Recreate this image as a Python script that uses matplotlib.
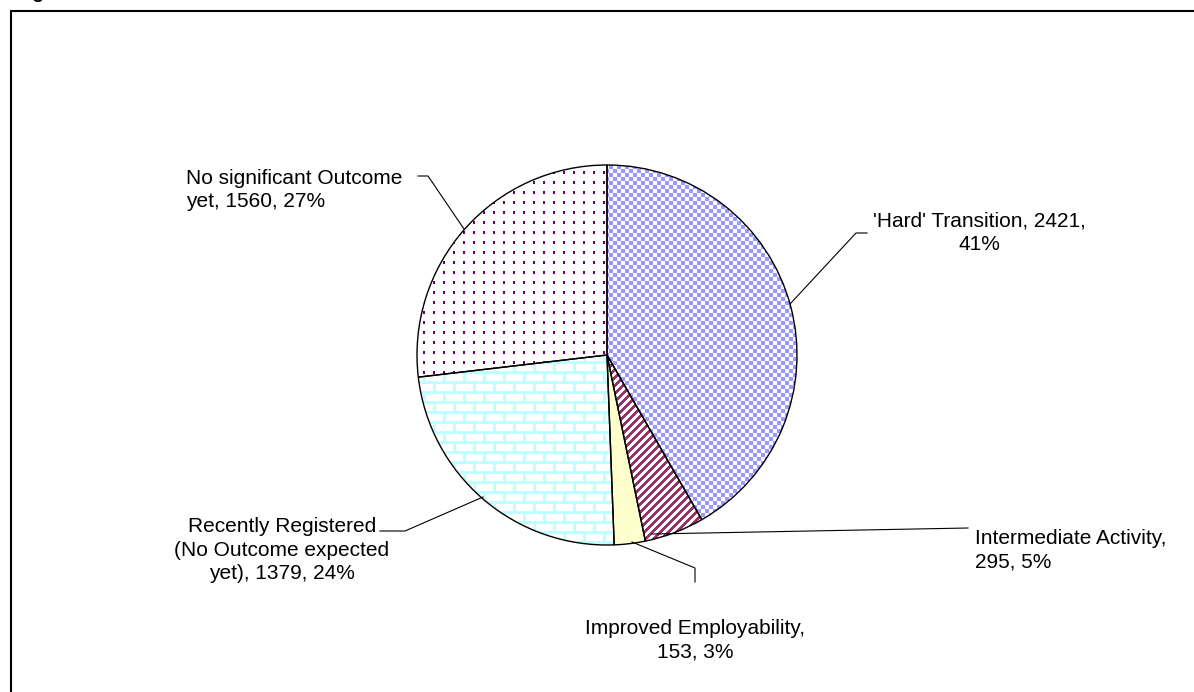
import numpy as np
import matplotlib
matplotlib.use("Agg")
import matplotlib.pyplot as plt
from matplotlib.patches import Rectangle

plt.rcParams['font.family'] = ['Liberation Sans', 'DejaVu Sans']

# outcome counts, clockwise from 12 o'clock
categories = ["'Hard' Transition", "Intermediate Activity", "Improved Employability",
              "Recently Registered (No Outcome expected yet)", "No significant Outcome yet"]
counts = [2421, 295, 153, 1379, 1560]
percents = [41, 5, 3, 24, 27]
label_texts = [
    "'Hard' Transition, {},\n{}%",
    "Intermediate Activity,\n{}, {}%",
    "Improved Employability,\n{}, {}%",
    "Recently Registered\n(No Outcome expected\nyet), {}, {}%",
    "No significant Outcome\nyet, {}, {}%",
]

W, H = 1194, 692
fig = plt.figure(figsize=(W / 100, H / 100), dpi=100)
ax = fig.add_axes([0, 0, 1, 1])


def py(y):
    # screen-style y (top down) to axes y
    return H - y


cx, cy, r = 607, py(355), 190

wedges, _ = ax.pie(counts, startangle=90, counterclock=False, center=(cx, cy), radius=r,
                   wedgeprops=dict(facecolor='none', edgecolor='black', linewidth=1.0))
ax.set_xlim(0, W)
ax.set_ylim(0, H)
ax.set_aspect('auto')
ax.axis('off')


# fill textures, one pixel per array cell
n = 2 * r + 8
yy, xx = np.mgrid[0:n, 0:n]


def solid(rgb):
    return np.ones((n, n, 3)) * np.array(rgb) / 255.0


def texture(mask, fg, bg=(255, 255, 255)):
    img = solid(bg)
    img[mask] = np.array(fg) / 255.0
    return img


checker = texture(((xx // 4 + yy // 4) % 2) == 0, (153, 153, 255))
stripes = texture(((xx + yy) % 8) < 4, (153, 51, 102))
yellow = texture(((xx % 16) < 2) & (((yy + (xx // 16 % 2) * 8) % 16) < 2),
                 (255, 255, 255), bg=(255, 255, 204))
brick_row = yy // 10
bricks = texture(((yy % 10) < 3) | (((xx + (brick_row % 2) * 10) % 20) < 3), (190, 255, 255))
dots = texture(((xx % 10) < 2) & ((yy % 10) < 3), (102, 0, 102))
fills = [checker, stripes, yellow, bricks, dots]

ext = (cx - n / 2, cx + n / 2, cy - n / 2, cy + n / 2)
for w, img in zip(wedges, fills):
    im = ax.imshow(img, extent=ext, interpolation='nearest', zorder=1)
    im.set_clip_path(w)
    w.set_zorder(3)

# labels with leader lines (screen coords)
label_pos = [(979, 233, 'center'), (975, 550, 'left'), (695, 640, 'center'),
             (282, 550, 'center'), (186, 190, 'left')]
leaders = [
    [(867, 233), (856, 233), (790, 304)],
    [(652, 534), (968, 528)],
    [(632, 542), (695, 568), (695, 582)],
    [(483, 497), (405, 531), (380, 531)],
    [(418, 176), (428, 176), (464, 229)],
]
for txt, c, p, (lx, ly, ha), pts in zip(label_texts, counts, percents, label_pos, leaders):
    ax.text(lx, py(ly), txt.format(c, p), ha=ha, va='center', fontsize=15,
            linespacing=1.3, multialignment='center' if ha == 'center' else 'left')
    xs = [q[0] for q in pts]
    ys = [py(q[1]) for q in pts]
    ax.plot(xs, ys, color='black', linewidth=0.8, zorder=4)

# outer frame, running off the right and bottom edges
ax.add_patch(Rectangle((10.5, -20), W + 20, py(10.5) + 20, fill=False,
                       edgecolor='black', linewidth=1.5, clip_on=False))
ax.text(16, py(-2), "Figure", fontsize=14, fontweight='bold', va='baseline', ha='left')

fig.savefig("out.png", dpi=100)
